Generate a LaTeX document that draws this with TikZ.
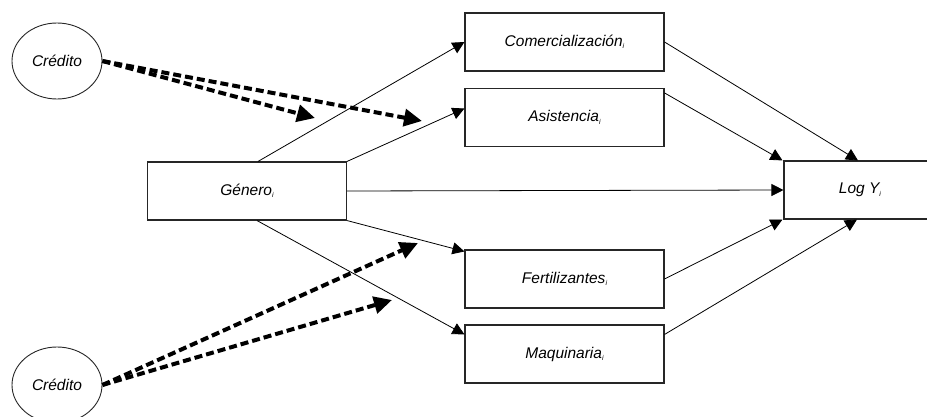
\documentclass[tikz,border=0pt]{standalone}
\usepackage{fontspec}
\setmainfont{Liberation Sans}
\usetikzlibrary{arrows.meta,shapes.geometric}
\newcommand{\subi}{\raisebox{-2.5pt}{\fontsize{7}{8}\selectfont i}}
\tikzset{
  varbox/.style={draw=black!85, line width=1.1pt, minimum width=199pt, minimum height=58pt, inner sep=0pt, font=\fontsize{15.5}{18}\selectfont\itshape},
  credbox/.style={ellipse, draw=black!85, line width=0.9pt, minimum width=90pt, minimum height=76pt, inner sep=0pt, font=\fontsize{15.5}{18}\selectfont\itshape},
  solidarrow/.style={line width=0.8pt, -{Triangle[length=12pt, width=12pt]}},
  dasharrow/.style={line width=4pt, dash pattern=on 8pt off 4pt, -{Triangle[length=18pt, width=17pt]}}
}
\begin{document}
\begin{tikzpicture}[x=1pt, y=-1pt]
\useasboundingbox (0,0) rectangle (927,417);
\clip (0,0) rectangle (927,417);
\node[credbox] (cred1) at (57,61) {Crédito};
\node[credbox] (cred2) at (57,385) {Crédito};
\node[varbox] (gen) at (247,191) {Género\subi};
\node[varbox] (com) at (564.5,42) {Comercialización\subi};
\node[varbox] (asi) at (564.5,117.5) {Asistencia\subi};
\node[varbox] (fer) at (564.5,279) {Fertilizantes\subi};
\node[varbox] (maq) at (564.5,354) {Maquinaria\subi};
\node[varbox, minimum width=152pt] (log) at (860,190) {Log Y\subi};
\coordinate (t1) at (315,118);
\coordinate (t2) at (422,121);
\coordinate (b1) at (418,243);
\coordinate (b2) at (392,300);
% solid arrows
\draw[solidarrow] ([xshift=11pt]gen.north) -- (com.west);
\draw[solidarrow] (gen.north east) -- ([yshift=9pt]asi.west);
\draw[solidarrow] (gen.east) -- (log.west);
\draw[solidarrow] (gen.south east) -- ([yshift=-2pt]fer.north west);
\draw[solidarrow] ([xshift=10pt]gen.south) -- ([yshift=-10pt]maq.north west);
\draw[solidarrow] (com.east) -- ([xshift=-2pt]log.north);
\draw[solidarrow] ([yshift=-5pt]asi.north east) -- ([xshift=-1pt]log.north west);
\draw[solidarrow] (fer.east) -- ([xshift=-1pt]log.south west);
\draw[solidarrow] ([yshift=-10pt]maq.north east) -- ([xshift=-3pt]log.south);
% dashed arrows
\draw[dasharrow] (cred1.east) -- (t1);
\draw[dasharrow] (cred1.east) -- (t2);
\draw[dasharrow] (cred2.east) -- (b1);
\draw[dasharrow] (cred2.east) -- (b2);
\end{tikzpicture}
\end{document}
